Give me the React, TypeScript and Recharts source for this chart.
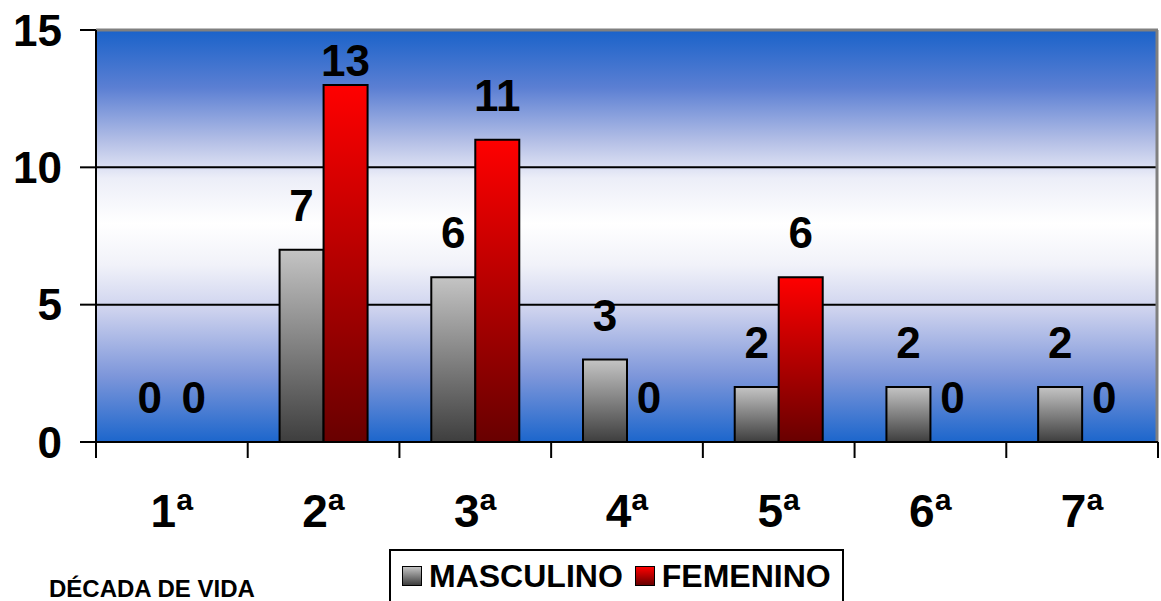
import React from 'react';
import {
  BarChart,
  Bar,
  XAxis,
  YAxis,
  CartesianGrid,
  ReferenceLine,
  LabelList
} from 'recharts';

// values
const decades = ['1ª', '2ª', '3ª', '4ª', '5ª', '6ª', '7ª'];
const masculino = [0, 7, 6, 3, 2, 2, 2];
const femenino = [0, 13, 11, 0, 6, 0, 0];
const seriesNames = ['MASCULINO', 'FEMENINO'];
const yTicks = [0, 5, 10, 15];
const axisTitle = 'DÉCADA DE VIDA';

const W = 1161;
const H = 601;
const Y_AXIS_W = 96;
const MARGIN_RIGHT = 3;
const MARGIN_TOP = 30;
const X_AXIS_H = 159;
const FONT = '"Liberation Sans", Arial, Helvetica, sans-serif';

const chartData = decades.map((d, i) => ({
  decade: d,
  masculino: masculino[i],
  femenino: femenino[i]
}));

const band = (W - Y_AXIS_W - MARGIN_RIGHT) / decades.length;

// zero bars still need a (tiny) rectangle so their "0" label gets drawn
const zeroMin = (value: any) => (Number(value) === 0 ? 0.01 : 0);

// value labels above each bar, kept inside the plot like the original
const renderValue = (props: any) => {
  const { x, y, width, value } = props;
  const baseline = Math.max(Number(y) - 29, 76);
  return (
    <text
      x={Number(x) + Number(width) / 2}
      y={baseline}
      textAnchor="middle"
      fontSize={44}
      fontWeight="bold"
      fontFamily={FONT}
      fill="#000"
    >
      {value}
    </text>
  );
};

// category label plus tick marks at the band edges
const CategoryTick = (props: any) => {
  const { x, y, payload, index } = props;
  const half = payload && payload.offset ? payload.offset : band / 2;
  const top = Number(y);
  return (
    <g>
      <line x1={x - half} x2={x - half} y1={top} y2={top + 16} stroke="#000" strokeWidth={2} />
      {index === decades.length - 1 && (
        <line x1={x + half} x2={x + half} y1={top} y2={top + 16} stroke="#000" strokeWidth={2} />
      )}
      <text
        x={x}
        y={top + 85}
        textAnchor="middle"
        fontSize={46}
        fontWeight="bold"
        fontFamily={FONT}
        fill="#000"
      >
        {payload.value}
      </text>
    </g>
  );
};

const legendSwatch = (grad: string) => ({
  display: 'inline-block',
  width: 18,
  height: 18,
  border: '1.5px solid #000',
  background: grad,
  marginRight: 7,
  verticalAlign: 'middle',
  position: 'relative' as const,
  top: -3
});

const App: React.FC = () => {
  return (
    <div style={{ position: 'absolute', left: 0, top: 0, width: W, height: H, background: '#fff', fontFamily: FONT, overflow: 'hidden' }}>
      <BarChart
        width={W}
        height={H}
        data={chartData}
        margin={{ top: MARGIN_TOP, right: MARGIN_RIGHT, left: 0, bottom: 0 }}
        barCategoryGap="21%"
        barGap={0}
      >
        <defs>
          <linearGradient id="bgGrad" x1="0" y1="0" x2="0" y2="1">
            <stop offset="0" stopColor="#1a62c9" />
            <stop offset="0.14" stopColor="#5b7fd3" />
            <stop offset="0.27" stopColor="#b4bfe6" />
            <stop offset="0.36" stopColor="#eceef8" />
            <stop offset="0.47" stopColor="#ffffff" />
            <stop offset="0.57" stopColor="#f1f2f9" />
            <stop offset="0.68" stopColor="#cdd2ee" />
            <stop offset="0.84" stopColor="#7d96da" />
            <stop offset="1" stopColor="#1c66cc" />
          </linearGradient>
          <linearGradient id="grayGrad" x1="0" y1="0" x2="0" y2="1">
            <stop offset="0" stopColor="#c4c4c4" />
            <stop offset="1" stopColor="#3e3e3e" />
          </linearGradient>
          <linearGradient id="redGrad" x1="0" y1="0" x2="0" y2="1">
            <stop offset="0" stopColor="#ff0000" />
            <stop offset="1" stopColor="#680000" />
          </linearGradient>
        </defs>
        <CartesianGrid
          fill="url(#bgGrad)"
          fillOpacity={1}
          vertical={false}
          stroke="#000"
          strokeWidth={2}
          horizontalValues={[5, 10]}
        />
        <CartesianGrid
          horizontal={false}
          stroke="#808080"
          strokeWidth={3}
          verticalCoordinatesGenerator={({ offset }: any) => [offset.left + offset.width - 1]}
        />
        <ReferenceLine y={15} stroke="#808080" strokeWidth={3} />
        <XAxis
          dataKey="decade"
          height={X_AXIS_H}
          interval={0}
          tickLine={false}
          tickSize={0}
          tickMargin={0}
          axisLine={{ stroke: '#000', strokeWidth: 2 }}
          tick={<CategoryTick />}
        />
        <YAxis
          width={Y_AXIS_W}
          domain={[0, 15]}
          ticks={yTicks}
          interval={0}
          tickSize={16}
          tickMargin={18}
          axisLine={{ stroke: '#000', strokeWidth: 2 }}
          tickLine={{ stroke: '#000', strokeWidth: 2 }}
          tick={{ fontSize: 44, fontWeight: 'bold', fill: '#000', fontFamily: FONT }}
        />
        <Bar dataKey="masculino" name={seriesNames[0]} fill="url(#grayGrad)" stroke="#000" strokeWidth={2} minPointSize={zeroMin} isAnimationActive={false}>
          <LabelList dataKey="masculino" content={renderValue} />
        </Bar>
        <Bar dataKey="femenino" name={seriesNames[1]} fill="url(#redGrad)" stroke="#000" strokeWidth={2} minPointSize={zeroMin} isAnimationActive={false}>
          <LabelList dataKey="femenino" content={renderValue} />
        </Bar>
      </BarChart>

      <div style={{ position: 'absolute', left: 49, top: 574, fontSize: 24, fontWeight: 'bold', color: '#000', lineHeight: '30px' }}>
        {axisTitle}
      </div>

      <div
        style={{
          position: 'absolute',
          left: 389,
          top: 549,
          width: 455,
          height: 70,
          border: '2px solid #000',
          background: '#fff',
          boxSizing: 'border-box',
          fontSize: 32,
          fontWeight: 'bold',
          color: '#000',
          lineHeight: '50px',
          paddingLeft: 11,
          whiteSpace: 'nowrap'
        }}
      >
        <span style={legendSwatch('linear-gradient(#c4c4c4, #3e3e3e)')} />
        <span style={{ marginRight: 12 }}>{seriesNames[0]}</span>
        <span style={legendSwatch('linear-gradient(#ff0000, #680000)')} />
        <span>{seriesNames[1]}</span>
      </div>
    </div>
  );
};

export default App;
